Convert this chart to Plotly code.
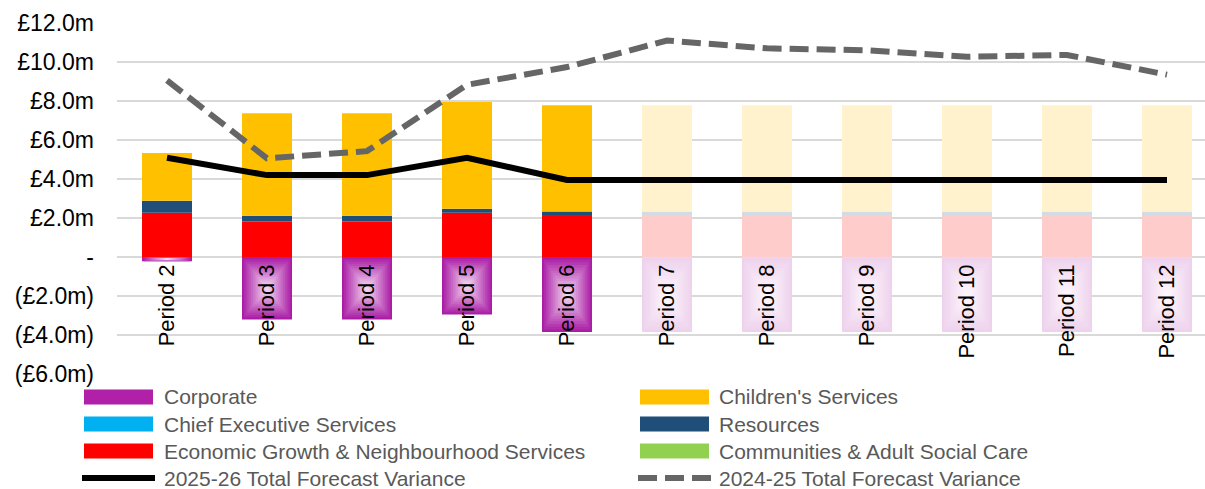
import plotly.graph_objects as go

# ---------------- data (£m) ----------------
periods = ["Period 2", "Period 3", "Period 4", "Period 5", "Period 6", "Period 7",
           "Period 8", "Period 9", "Period 10", "Period 11", "Period 12"]
reported = [True, True, True, True, True, False, False, False, False, False, False]

corporate = [-0.22, -3.20, -3.20, -2.95, -3.85, -3.82, -3.82, -3.82, -3.82, -3.82, -3.82]
chief_exec = [0.0, 0.0, 0.0, 0.0, 0.0, -0.03, -0.03, -0.03, -0.03, -0.03, -0.03]
economic_growth = [2.27, 1.82, 1.82, 2.27, 2.16, 2.16, 2.16, 2.16, 2.16, 2.16, 2.16]
resources = [0.61, 0.29, 0.29, 0.20, 0.17, 0.17, 0.17, 0.17, 0.17, 0.17, 0.17]
childrens = [2.45, 5.26, 5.26, 5.48, 5.45, 5.45, 5.45, 5.45, 5.45, 5.45, 5.45]
communities = [0.0, 0.0, 0.0, 0.0, 0.0, 0.0, 0.0, 0.0, 0.0, 0.0, 0.0]

total_2526 = [5.09, 4.20, 4.20, 5.09, 3.95, 3.95, 3.95, 3.95, 3.95, 3.95, 3.95]
total_2425 = [9.06, 5.06, 5.43, 8.83, 9.74, 11.10, 10.70, 10.60, 10.27, 10.36, 9.35]

y_tickvals = [12, 10, 8, 6, 4, 2, 0, -2, -4, -6]
y_ticktext = ["£12.0m", "£10.0m", "£8.0m", "£6.0m", "£4.0m", "£2.0m", "-",
              "(£2.0m)", "(£4.0m)", "(£6.0m)"]

names = {
    "corporate": "Corporate",
    "childrens": "Children's Services",
    "chief": "Chief Executive Services",
    "resources": "Resources",
    "economic": "Economic Growth & Neighbourhood Services",
    "communities": "Communities & Adult Social Care",
    "t2526": "2025-26 Total Forecast Variance",
    "t2425": "2024-25 Total Forecast Variance",
}

# ---------------- styling ----------------
FONT = "Liberation Sans, Arial, sans-serif"
W, H = 1205, 489
L, R, T, B = 117, 0, 23, 115
col = {
    "corporate": (176, 32, 168),
    "childrens": (255, 192, 0),
    "chief": (0, 176, 240),
    "resources": (31, 78, 121),
    "economic": (255, 0, 0),
    "communities": (146, 208, 80),
}
FADE = 0.2
BAR_W = 0.5


def rgb(c):
    return "rgb(%d,%d,%d)" % tuple(int(round(v)) for v in c)


def faded(c):
    return tuple(255 - FADE * (255 - v) for v in c)


def colors_for(c):
    return [rgb(c) if r else rgb(faded(c)) for r in reported]


fig = go.Figure()

# stacked bars (main subplot)
for key, vals in [("chief", chief_exec), ("economic", economic_growth),
                  ("resources", resources), ("childrens", childrens),
                  ("communities", communities)]:
    fig.add_trace(go.Bar(x=periods, y=vals, name=names[key], width=BAR_W,
                         marker=dict(color=colors_for(col[key]), line=dict(width=0)),
                         showlegend=False, hoverinfo="skip"))

# Corporate bars with a stepped "path" gradient (edge purple -> light centre)
edge = (170, 30, 166)
centre = (242, 214, 240)
N = 14
for k in range(N):
    t = k / (N - 1)
    c = tuple(edge[i] + (centre[i] - edge[i]) * t for i in range(3))
    frac = 1 - k / N
    base = [ch + v * (1 - frac) / 2 for ch, v in zip(chief_exec, corporate)]
    ys = [v * frac for v in corporate]
    ax = "x%d" % (k + 2)
    fig.add_trace(go.Bar(x=periods, y=ys, base=base, width=BAR_W * frac,
                         marker=dict(color=colors_for(c), line=dict(width=0)),
                         xaxis=ax, yaxis="y", showlegend=False, hoverinfo="skip",
                         name=names["corporate"]))

# lines
fig.add_trace(go.Scatter(x=periods, y=total_2425, mode="lines", name=names["t2425"],
                         line=dict(color="#666666", width=6, dash="19px,8px"),
                         showlegend=False, hoverinfo="skip"))
fig.add_trace(go.Scatter(x=periods, y=total_2526, mode="lines", name=names["t2526"],
                         line=dict(color="#000000", width=6),
                         showlegend=False, hoverinfo="skip"))

xr = [-0.5, -0.5 + (W - L - R) / 100.0]
layout_axes = dict(
    xaxis=dict(range=xr, anchor="free", position=6 / 18, showgrid=False,
               showline=False, zeroline=False, ticks="", tickangle=-90,
               tickfont=dict(family=FONT, size=22, color="#000000"),
               ticklabelstandoff=2, automargin=False),
    yaxis=dict(range=[-6, 12], tickvals=y_tickvals, ticktext=y_ticktext,
               showgrid=True, gridcolor="#D9D9D9", gridwidth=1.8,
               zeroline=True, zerolinecolor="#D9D9D9", zerolinewidth=1.8,
               showline=False, ticks="", ticklabelstandoff=22, automargin=False,
               tickfont=dict(family=FONT, size=23, color="#000000")),
)
for k in range(N):
    layout_axes["xaxis%d" % (k + 2)] = dict(range=xr, overlaying="x", anchor="y",
                                            visible=False, matches="x")

fig.update_layout(
    width=W, height=H, margin=dict(l=L, r=R, t=T, b=B, pad=0),
    paper_bgcolor="white", plot_bgcolor="white",
    barmode="relative", bargap=0.5,
    font=dict(family=FONT, size=21, color="#595959"),
    showlegend=False,
    **layout_axes,
)

# ---------------- custom legend ----------------
pw, ph = W - L - R, H - T - B


def px(xp):
    return (xp - L) / pw


def py(yp):
    return (H - B - yp) / ph


legend_items = [
    ("corporate", "bar"), ("childrens", "bar"),
    ("chief", "bar"), ("resources", "bar"),
    ("economic", "bar"), ("communities", "bar"),
    ("t2526", "solid"), ("t2425", "dash"),
]
col_x = [84, 640]
text_x = [162, 717]
row_y = [397, 424, 451, 478]
for i, (key, kind) in enumerate(legend_items):
    c, r = i % 2, i // 2
    yc = row_y[r]
    x0 = col_x[c]
    if kind == "bar":
        fig.add_shape(type="rect", xref="paper", yref="paper",
                      x0=px(x0), x1=px(x0 + 69), y0=py(yc - 7.5), y1=py(yc + 7.5),
                      fillcolor=rgb(col[key]), line=dict(width=0))
    elif kind == "solid":
        fig.add_shape(type="line", xref="paper", yref="paper",
                      x0=px(x0 - 2), x1=px(x0 + 71), y0=py(yc), y1=py(yc),
                      line=dict(color="#000000", width=6))
    else:
        fig.add_shape(type="line", xref="paper", yref="paper",
                      x0=px(x0 - 2), x1=px(x0 + 71), y0=py(yc), y1=py(yc),
                      line=dict(color="#666666", width=6, dash="19px,8px"))
    fig.add_annotation(xref="paper", yref="paper", x=px(text_x[c]), y=py(yc),
                       xanchor="left", yanchor="middle", showarrow=False,
                       text=names[key],
                       font=dict(family=FONT, size=21, color="#595959"))

fig.write_html("out.html",
               config={"displayModeBar": False},
               post_script="document.body.style.margin='0';"
                           "document.body.style.overflow='hidden';")
